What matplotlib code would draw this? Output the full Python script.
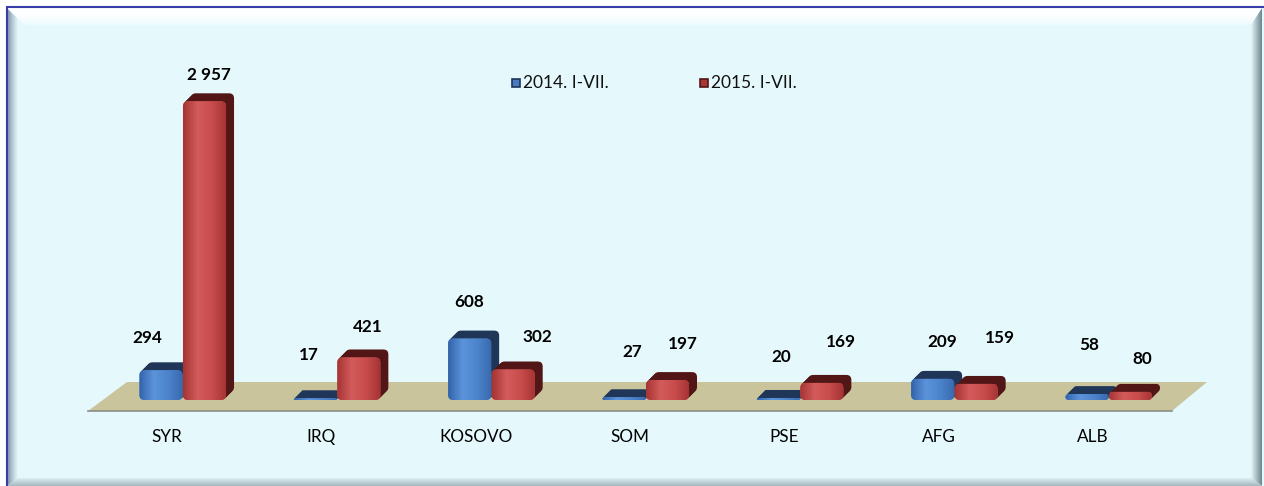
import numpy as np
import matplotlib
matplotlib.use("Agg")
import matplotlib.pyplot as plt
from matplotlib.patches import Polygon, FancyBboxPatch, Rectangle
from matplotlib.transforms import ScaledTranslation
from matplotlib.colors import LinearSegmentedColormap

plt.rcParams["font.family"] = ["Lato", "DejaVu Sans"]

# ---- data ----
categories = ["SYR", "IRQ", "KOSOVO", "SOM", "PSE", "AFG", "ALB"]
series_names = ["2014. I-VII.", "2015. I-VII."]
values_2014 = [294, 17, 608, 27, 20, 209, 58]
values_2015 = [2957, 421, 302, 197, 169, 159, 80]

# ---- layout / style ----
W, H, DPI = 1264, 486, 100
STEP = 154.33          # pixels between category centres
C0 = 167               # pixel x of first category
K = 9.9                # value units per pixel
BASE = 400             # pixel y of the value-zero line
DEPTH = 8              # extrusion depth in pixels
bar_offsets = [-0.039, 0.243]
bar_width = 0.279
front_colors = [["#3263AA", "#5C93DA", "#4C84CC", "#3868AC"],
                ["#A53434", "#D45B5B", "#C84C4C", "#A33232"]]
depth_colors = ["#1F3659", "#521616"]
legend_colors = [("#4A7BBE", "#1F3659"), ("#A83636", "#521616")]
# value-label offsets (pixels from the front top centre of each bar)
label_dx = [[-14, -6, -1, 8, 3, 10, 2], [4.5, 9, 24, 15.5, 19, 24, 11.5]]
label_dy = [[33, 44, 38, 46, 42, 38, 50], [27, 31.5, 33.5, 37, 42, 47, 34]]


def fmt(v):
    return f"{v:,}".replace(",", " ")


fig = plt.figure(figsize=(W / DPI, H / DPI), dpi=DPI, facecolor="white")

# ---- decorative frame (pixel coordinates) ----
bg = fig.add_axes([0, 0, 1, 1])
bg.set_zorder(0)
bg.axis("off")
bg.set_autoscale_on(False)
bg.set_xlim(0, W)
bg.set_ylim(H, 0)


def grad_poly(ax, verts, colors, horizontal, extent, z):
    poly = Polygon(verts, closed=True, fc="none", ec="none", zorder=z)
    ax.add_patch(poly)
    cmap = LinearSegmentedColormap.from_list("g", colors)
    g = np.linspace(0, 1, 256)
    arr = g[None, :] if horizontal else g[:, None]
    im = ax.imshow(arr, cmap=cmap, extent=extent, aspect="auto",
                   interpolation="bilinear", origin="upper", zorder=z)
    im.set_clip_path(poly)
    return im


bg.add_patch(Rectangle((7, 7), W - 7, H - 7, fc="#E5F9FD", ec="none", zorder=1))
# bevels
grad_poly(bg, [(7, 8), (18, 19), (18, 478), (7, H)],
          ["#7791A0", "#B3CAD3", "#E5F9FD"], True, (7, 18, H, 8), 2)
grad_poly(bg, [(W - 2, 8), (1251, 22), (1251, 478), (W - 2, H)],
          ["#E5F9FD", "#A9BEC5", "#6C858D"], True, (1251, W - 2, H, 8), 2)
grad_poly(bg, [(7, H), (18, 478), (1251, 478), (W - 2, H)],
          ["#DDEFF3", "#A3B7BD"], False, (7, W - 2, H, 478), 2)
grad_poly(bg, [(7, 8), (W - 2, 8), (1251, 25), (25, 25)],
          ["#FFFFFF", "#FCFEFF", "#EDFBFE"], False, (7, W - 2, 25, 8), 3)
bg.plot([6.5, 6.5], [7, H], color="#3A3DA8", lw=1.5, zorder=4, solid_capstyle="butt")
bg.plot([6, W], [7.2, 7.2], color="#3A3DA8", lw=1.5, zorder=4, solid_capstyle="butt")

# floor
bg.add_patch(Polygon([(88, 411), (127, 382), (1207, 382), (1172, 411)],
                     closed=True, fc="#C9C49C", ec="none", zorder=5))
bg.plot([88, 1172], [411, 411], color="#8C8C84", lw=1.2, zorder=5)

# legend
for s, name in enumerate(series_names):
    x0 = 512 + s * 188
    fc, ec = legend_colors[s]
    bg.add_patch(Rectangle((x0, 79), 8, 8, fc=fc, ec=ec, lw=1.2, zorder=6))
    bg.text(x0 + 11, 88, name, fontsize=12.5, color="#111111",
            ha="left", va="baseline", zorder=6)

bg.set_xlim(0, W)
bg.set_ylim(H, 0)

# ---- data axes ----
ax = fig.add_axes([0, 0, 1, 1])
ax.set_zorder(1)
ax.patch.set_visible(False)
ax.axis("off")
ax.set_autoscale_on(False)
ax.set_xlim(-C0 / STEP, (W - C0) / STEP)
ax.set_ylim(-(H - BASE) * K, BASE * K)

x = np.arange(len(categories))
aspect = K * STEP
series = [values_2014, values_2015]

for i in range(len(categories)):
    for s, vals in enumerate(series):
        v = vals[i]
        xc = x[i] + bar_offsets[s]
        left = xc - bar_width / 2
        r_px = min(5.0, (v / K) / 2)
        style = f"round,pad=0,rounding_size={r_px / STEP}"
        z = 2 + i * 4 + s * 2
        # extruded body
        for k in range(1, DEPTH + 1):
            p = FancyBboxPatch((left, 0), bar_width, v, boxstyle=style,
                               mutation_aspect=aspect, fc=depth_colors[s],
                               ec="none", zorder=z)
            p.set_transform(ax.transData +
                            ScaledTranslation(k / DPI, k / DPI, fig.dpi_scale_trans))
            ax.add_patch(p)
        # front face with shading
        front = FancyBboxPatch((left, 0), bar_width, v, boxstyle=style,
                               mutation_aspect=aspect, fc=front_colors[s][1],
                               ec="none", zorder=z + 1)
        ax.add_patch(front)
        cmap = LinearSegmentedColormap.from_list("f", front_colors[s])
        im = ax.imshow(np.linspace(0, 1, 128)[None, :], cmap=cmap,
                       extent=(left, left + bar_width, 0, v), aspect="auto",
                       interpolation="bilinear", origin="upper", zorder=z + 1)
        im.set_clip_path(front)
        # value label
        ax.annotate(fmt(v), xy=(xc, v),
                    xytext=(label_dx[s][i], label_dy[s][i] - 6),
                    textcoords="offset pixels", ha="center", va="baseline",
                    fontsize=12.3, fontweight="bold", color="black",
                    zorder=40)

# category labels
for i, cat in enumerate(categories):
    ax.annotate(cat, xy=(x[i], 0), xytext=(0, -42), textcoords="offset pixels",
                ha="center", va="baseline", fontsize=12.3, color="black",
                zorder=40)

ax.set_xlim(-C0 / STEP, (W - C0) / STEP)
ax.set_ylim(-(H - BASE) * K, BASE * K)

fig.savefig("out.png", dpi=DPI, facecolor="white")
